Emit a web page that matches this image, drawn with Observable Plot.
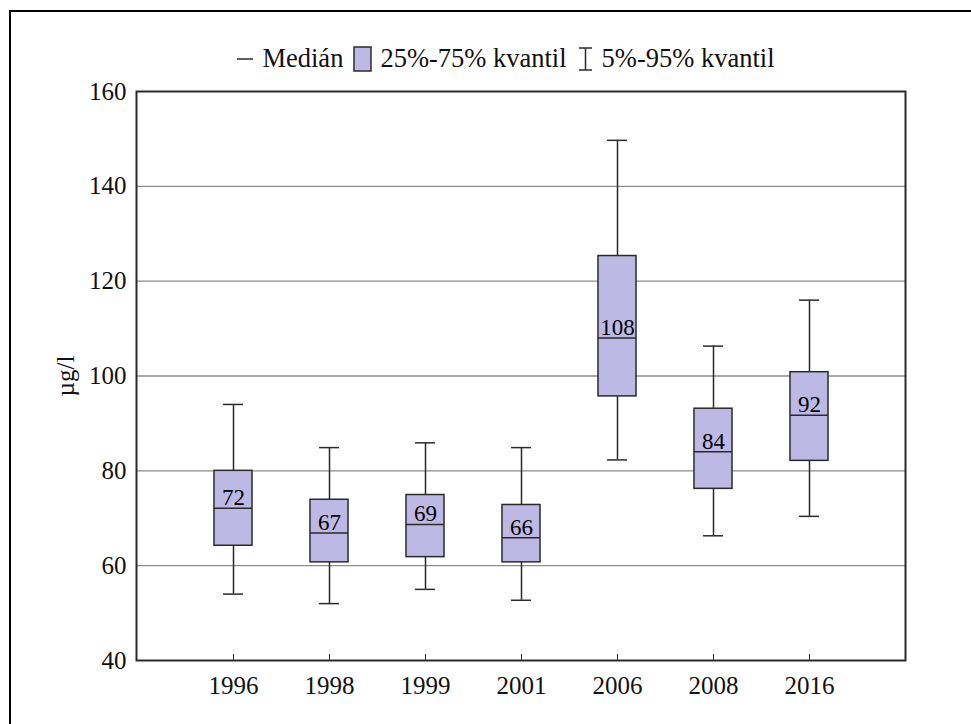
<!DOCTYPE html>
<html>
<head>
<meta charset="utf-8">
<script src="https://cdn.jsdelivr.net/npm/d3@7"></script>
<script src="https://cdn.jsdelivr.net/npm/@observablehq/plot@0.6"></script>
<style>
  html, body { margin: 0; padding: 0; background: #fff; }
  #wrap { position: relative; width: 971px; height: 724px; overflow: hidden; font-family: "Liberation Serif", "Times New Roman", Times, "DejaVu Serif", serif; }
  #outer { position: absolute; left: 9px; top: 10px; width: 2000px; height: 2000px; border: 2px solid #000; box-sizing: border-box; }
  #legend { position: absolute; left: 20px; top: 43px; width: 971px; display: flex; justify-content: center; align-items: center; font-family: "Liberation Serif", "Times New Roman", Times, "DejaVu Serif", serif; font-size: 26.5px; color: #111; white-space: nowrap; }
  #legend .item { display: flex; align-items: center; margin: 0 5px; }
  #legend svg { display: block; margin-right: 8px; }
  #chart { position: absolute; left: 0; top: 0; }
</style>
</head>
<body>
<div id="wrap">
  <div id="outer"></div>
  <div id="chart"></div>
  <div id="legend"></div>
</div>
<script>
const years = ["1996", "1998", "1999", "2001", "2006", "2008", "2016"];
const p5 = [54, 52, 55, 52.7, 82.3, 66.3, 70.4];
const q1 = [64.2, 60.7, 61.8, 60.7, 95.7, 76.2, 82.1];
const median = [72.1, 66.9, 68.7, 65.9, 108, 84, 91.7];
const q3 = [80, 73.9, 74.9, 72.8, 125.3, 93.1, 100.8];
const p95 = [94, 84.9, 85.9, 84.9, 149.7, 106.3, 116];
const medianLabels = ["72", "67", "69", "66", "108", "84", "92"];
const yTicks = [40, 60, 80, 100, 120, 140, 160];
const gridValues = [60, 80, 100, 120, 140];
const legendLabels = ["Medián", "25%-75% kvantil", "5%-95% kvantil"];
const yLabel = "µg/l";

const boxFill = "#bdb8e4";
const dark = "#2a2a2a";
const serif = "'Liberation Serif', 'Times New Roman', Times, 'DejaVu Serif', serif";

const rows = years.map((year, i) => ({
  year, p5: p5[i], q1: q1[i], median: median[i], q3: q3[i], p95: p95[i], label: medianLabels[i]
}));

const plot = Plot.plot({
  width: 971,
  height: 724,
  marginTop: 91,
  marginBottom: 64,
  marginLeft: 136,
  marginRight: 66,
  style: { fontFamily: serif, background: "transparent", color: "#111" },
  x: { type: "band", domain: years, paddingInner: 0.605, paddingOuter: 0.8025, align: 0.5 },
  y: { type: "linear", domain: [40, 160] },
  marks: [
    Plot.ruleY(gridValues, { stroke: "#8c8c8c", strokeWidth: 1.3 }),
    Plot.ruleX(rows, { x: "year", y1: "q3", y2: "p95", stroke: dark, strokeWidth: 1.5 }),
    Plot.ruleX(rows, { x: "year", y1: "p5", y2: "q1", stroke: dark, strokeWidth: 1.5 }),
    Plot.tickY(rows, { x: "year", y: "p95", stroke: dark, strokeWidth: 1.5, insetLeft: 9, insetRight: 9 }),
    Plot.tickY(rows, { x: "year", y: "p5", stroke: dark, strokeWidth: 1.5, insetLeft: 9, insetRight: 9 }),
    Plot.barY(rows, { x: "year", y1: "q1", y2: "q3", fill: boxFill, stroke: dark, strokeWidth: 1.5 }),
    Plot.tickY(rows, { x: "year", y: "median", stroke: dark, strokeWidth: 1.5 }),
    Plot.text(rows, { x: "year", y: "median", text: "label", lineAnchor: "bottom", dy: -3, fontSize: 23, fill: "#000", fontFamily: serif }),
    Plot.tickX(years, { x: d => d, insetTop: 563, stroke: dark, strokeWidth: 1 }),
    Plot.frame({ stroke: dark, strokeWidth: 2 }),
    Plot.axisY({ ticks: yTicks, tickSize: 0, tickPadding: 10, fontSize: 25, fontFamily: serif, label: yLabel, labelAnchor: "center", labelArrow: "none", labelOffset: 80 }),
    Plot.axisX({ tickSize: 0, tickPadding: 16, fontSize: 25, fontFamily: serif, label: null })
  ]
});
document.getElementById("chart").appendChild(plot);

// Legend (HTML)
const legend = document.getElementById("legend");
const ns = "http://www.w3.org/2000/svg";
function makeSvg(w, h, inner) {
  const s = document.createElementNS(ns, "svg");
  s.setAttribute("width", w); s.setAttribute("height", h);
  s.innerHTML = inner;
  return s;
}
const icons = [
  makeSvg(18, 26, `<line x1="1" x2="17" y1="13" y2="13" stroke="${dark}" stroke-width="1.5"/>`),
  makeSvg(19, 26, `<rect x="1" y="1" width="17" height="24" fill="${boxFill}" stroke="${dark}" stroke-width="1.5"/>`),
  makeSvg(17, 26, `<line x1="8.5" x2="8.5" y1="2" y2="24" stroke="${dark}" stroke-width="1.5"/><line x1="2" x2="15" y1="2" y2="2" stroke="${dark}" stroke-width="1.5"/><line x1="2" x2="15" y1="24" y2="24" stroke="${dark}" stroke-width="1.5"/>`)
];
legendLabels.forEach((lab, i) => {
  const it = document.createElement("div");
  it.className = "item";
  it.appendChild(icons[i]);
  const sp = document.createElement("span");
  sp.textContent = lab;
  it.appendChild(sp);
  legend.appendChild(it);
});
</script>
</body>
</html>
